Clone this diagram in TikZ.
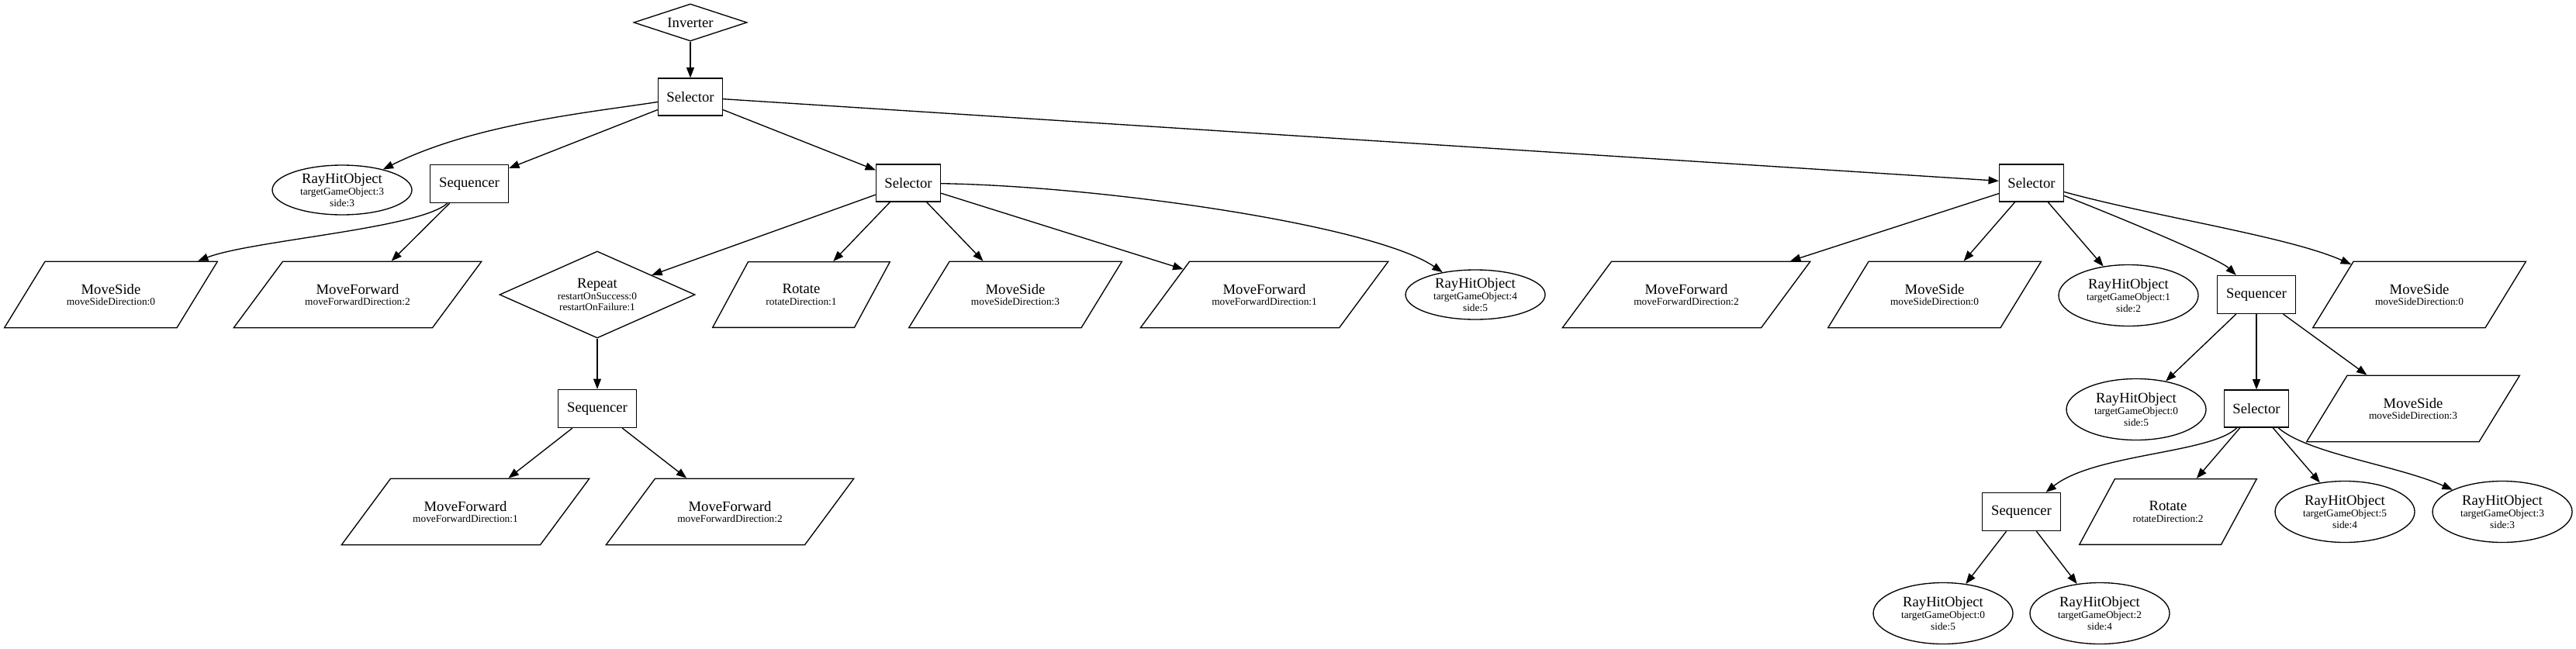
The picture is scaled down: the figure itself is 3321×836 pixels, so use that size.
\documentclass[tikz,border=0pt]{standalone}
\usepackage{fontspec}
\setmainfont{Liberation Serif}
\usetikzlibrary{shapes.geometric,arrows.meta}
\newcommand{\mainlbl}[1]{{\fontsize{14pt}{14pt}\selectfont #1}}
\begin{document}
\begin{tikzpicture}[x=0.75pt,y=-0.75pt,
  every node/.style={font=\fontsize{10pt}{11pt}\selectfont, align=center, inner sep=0pt, line width=1pt},
  selbox/.style={draw, rectangle, minimum width=62.25pt, minimum height=36pt, font=\fontsize{14pt}{16pt}\selectfont},
  seqbox/.style={draw, rectangle, minimum width=75.75pt, minimum height=36.75pt, font=\fontsize{14pt}{16pt}\selectfont},
  invdia/.style={draw, diamond, aspect=3, minimum width=109.5pt, minimum height=36pt, font=\fontsize{14pt}{16pt}\selectfont},
  repdia/.style={draw, diamond, aspect=2.25, minimum width=189pt, minimum height=84pt},
  rayA/.style={draw, ellipse, minimum width=135pt, minimum height=48pt},
  rayB/.style={draw, ellipse, minimum width=135pt, minimum height=59.25pt},
  parabase/.style={draw, trapezium, inner xsep=0pt, inner ysep=21.6pt},
  mfpara/.style={parabase, trapezium left angle=53.5, trapezium right angle=126.5, text width=144.75pt},
  mspara/.style={parabase, trapezium left angle=58.5, trapezium right angle=121.5, text width=127.5pt},
  rotpara/.style={parabase, trapezium left angle=61.6, trapezium right angle=118.4, text width=102.75pt},
  arr/.style={draw, line width=1pt, -{Triangle[length=10pt,width=7.5pt]}}
]
\useasboundingbox (0,0) rectangle (3321,836);

% row 0-1
\node[invdia] (inv) at (890,29) {Inverter};
\node[selbox] (sel1) at (890,125) {Selector};
% row 2
\node[rayA] (rh1) at (441,245) {\mainlbl{RayHitObject}\\targetGameObject:3\\side:3};
\node[seqbox] (seq1) at (605,237) {Sequencer};
\node[selbox] (sel2) at (1171,236) {Selector};
\node[selbox] (sel3) at (2619,236) {Selector};
% row 3
\node[mspara] (ms1) at (143,380) {\mainlbl{MoveSide}\\moveSideDirection:0};
\node[mfpara] (mf1) at (461,380) {\mainlbl{MoveForward}\\moveForwardDirection:2};
\node[repdia] (rep) at (770,380) {\mainlbl{Repeat}\\restartOnSuccess:0\\restartOnFailure:1};
\node[rotpara] (rot1) at (1033,380) {\mainlbl{Rotate}\\rotateDirection:1};
\node[mspara] (ms2) at (1309,380) {\mainlbl{MoveSide}\\moveSideDirection:3};
\node[mfpara] (mf2) at (1630,380) {\mainlbl{MoveForward}\\moveForwardDirection:1};
\node[rayA] (rh2) at (1902,380) {\mainlbl{RayHitObject}\\targetGameObject:4\\side:5};
\node[mfpara] (mf3) at (2174,380) {\mainlbl{MoveForward}\\moveForwardDirection:2};
\node[mspara] (ms3) at (2494,380) {\mainlbl{MoveSide}\\moveSideDirection:0};
\node[rayB] (rh3) at (2744,381) {\mainlbl{RayHitObject}\\targetGameObject:1\\side:2};
\node[seqbox] (seq2) at (2909,380) {Sequencer};
\node[mspara] (ms4) at (3119,380) {\mainlbl{MoveSide}\\moveSideDirection:0};
% row 4
\node[seqbox] (seq3) at (770,527) {Sequencer};
\node[rayB] (rh4) at (2754,528) {\mainlbl{RayHitObject}\\targetGameObject:0\\side:5};
\node[selbox] (sel4) at (2909,527) {Selector};
\node[mspara] (ms5) at (3111,527) {\mainlbl{MoveSide}\\moveSideDirection:3};
% row 5
\node[mfpara] (mf4) at (600,660) {\mainlbl{MoveForward}\\moveForwardDirection:1};
\node[mfpara] (mf5) at (941,660) {\mainlbl{MoveForward}\\moveForwardDirection:2};
\node[seqbox] (seq4) at (2606,660) {Sequencer};
\node[rotpara] (rot2) at (2795,660) {\mainlbl{Rotate}\\rotateDirection:2};
\node[rayB] (rh5) at (3023,660) {\mainlbl{RayHitObject}\\targetGameObject:5\\side:4};
\node[rayB] (rh6) at (3226,660) {\mainlbl{RayHitObject}\\targetGameObject:3\\side:3};
% row 6
\node[rayB] (rh7) at (2505,791) {\mainlbl{RayHitObject}\\targetGameObject:0\\side:5};
\node[rayB] (rh8) at (2707,791) {\mainlbl{RayHitObject}\\targetGameObject:2\\side:4};

% edges
\draw[arr] (inv) -- (sel1);
\draw[arr] (sel1) .. controls (760,145) and (610,160) .. (rh1);
\draw[arr] (sel1) -- (seq1);
\draw[arr] (sel1) -- (sel2);
\draw[arr] (sel1) -- (sel3);
\draw[arr] (seq1) .. controls (540,295) and (324,310) .. (ms1);
\draw[arr] (seq1) -- (mf1);
\draw[arr] (sel2) -- (rep);
\draw[arr] (sel2) -- (rot1);
\draw[arr] (sel2) -- (ms2);
\draw[arr] (sel2) -- (mf2);
\draw[arr] (sel2) .. controls (1420,240) and (1770,290) .. (rh2);
\draw[arr] (rep) -- (seq3);
\draw[arr] (seq3) -- (mf4);
\draw[arr] (seq3) -- (mf5);
\draw[arr] (sel3) -- (mf3);
\draw[arr] (sel3) -- (ms3);
\draw[arr] (sel3) -- (rh3);
\draw[arr] (sel3) .. controls (2719,275) and (2860,333) .. (seq2);
\draw[arr] (sel3) .. controls (2780,280) and (2950,305) .. (ms4);
\draw[arr] (seq2) -- (rh4);
\draw[arr] (seq2) -- (sel4);
\draw[arr] (seq2) -- (ms5);
\draw[arr] (sel4) .. controls (2850,585) and (2700,585) .. (seq4);
\draw[arr] (sel4) -- (rot2);
\draw[arr] (sel4) -- (rh5);
\draw[arr] (sel4) .. controls (2975,585) and (3090,600) .. (rh6);
\draw[arr] (seq4) -- (rh7);
\draw[arr] (seq4) -- (rh8);
\end{tikzpicture}
\end{document}
